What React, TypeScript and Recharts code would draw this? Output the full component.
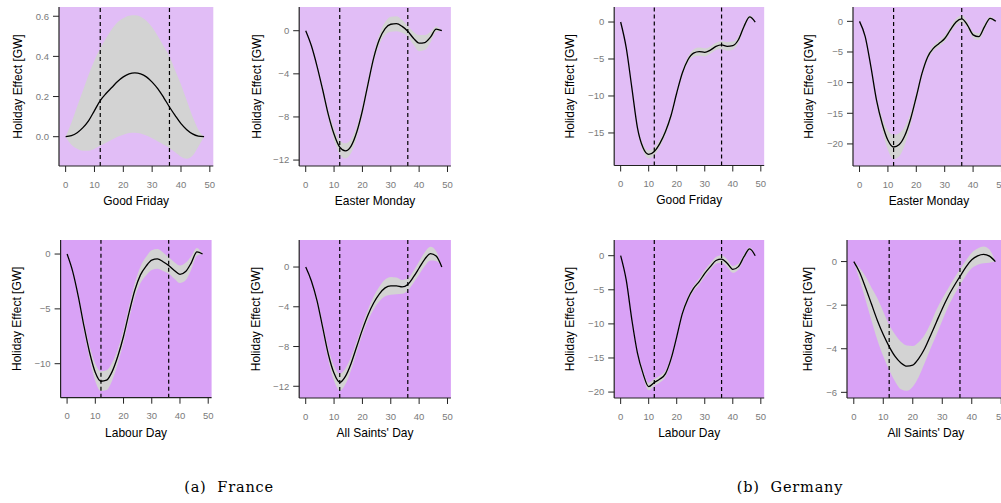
import {
  Area,
  CartesianGrid,
  ComposedChart,
  Line,
  ReferenceLine,
  XAxis,
  YAxis,
} from "recharts";

// hours after the holiday start (every 2 h)
const hours = [0, 2, 4, 6, 8, 10, 12, 14, 16, 18, 20, 22, 24, 26, 28, 30, 32, 34, 36, 38, 40, 42, 44, 46, 48];
const xTicks = [0, 10, 20, 30, 40, 50];

// France
const frGoodFridayMean = [0, 0.005, 0.02, 0.045, 0.08, 0.13, 0.18, 0.215, 0.245, 0.275, 0.298, 0.313, 0.318, 0.313, 0.298, 0.272, 0.238, 0.195, 0.148, 0.105, 0.065, 0.035, 0.014, 0.003, 0];
const frGoodFridayLow = [0, -0.04, -0.06, -0.07, -0.07, -0.06, -0.045, -0.03, -0.015, 0, 0.01, 0.018, 0.02, 0.016, 0.006, -0.008, -0.024, -0.04, -0.056, -0.078, -0.1, -0.11, -0.095, -0.05, 0];
const frGoodFridayHigh = [0, 0.07, 0.15, 0.23, 0.31, 0.38, 0.44, 0.49, 0.535, 0.57, 0.59, 0.603, 0.605, 0.598, 0.578, 0.545, 0.5, 0.45, 0.4, 0.33, 0.26, 0.18, 0.1, 0.035, 0];

const frEasterMean = [0, -1.4, -3.3, -5.5, -7.8, -9.6, -10.8, -11.15, -10.7, -9.4, -7.4, -4.9, -2.5, -0.8, 0.2, 0.6, 0.65, 0.4, -0.05, -0.7, -1.15, -1.1, -0.6, 0.15, 0];
const frEasterLow = [0, -1.5, -3.5, -5.8, -8.2, -10.15, -11.45, -11.85, -11.35, -9.95, -7.85, -5.3, -2.9, -1.3, -0.4, -0.1, -0.05, -0.2, -0.55, -1.3, -1.9, -1.8, -1.1, -0.1, 0];
const frEasterHigh = [0, -1.3, -3.1, -5.2, -7.4, -9.05, -10.15, -10.45, -10.05, -8.85, -6.95, -4.5, -2.1, -0.3, 0.8, 1.3, 1.35, 1.0, 0.45, -0.1, -0.4, -0.4, -0.1, 0.4, 0];

const frLabourMean = [0, -1.6, -3.9, -6.6, -9.0, -10.8, -11.6, -11.5, -10.7, -9.3, -7.5, -5.3, -3.3, -1.9, -1.1, -0.55, -0.45, -0.7, -1.05, -1.5, -1.85, -1.6, -0.8, 0.2, 0];
const frLabourLow = [0, -1.75, -4.2, -7.05, -9.6, -11.6, -12.5, -12.4, -11.5, -9.95, -8.1, -5.9, -3.95, -2.65, -1.95, -1.45, -1.35, -1.55, -1.8, -2.25, -2.65, -2.4, -1.4, -0.15, 0];
const frLabourHigh = [0, -1.45, -3.6, -6.15, -8.4, -10.0, -10.7, -10.6, -9.9, -8.65, -6.9, -4.7, -2.65, -1.15, -0.25, 0.35, 0.45, 0.15, -0.3, -0.75, -1.05, -0.8, -0.2, 0.55, 0];

const frSaintsMean = [0, -1.4, -3.4, -6.1, -8.8, -10.7, -11.6, -11.0, -9.7, -8.0, -6.3, -4.8, -3.6, -2.7, -2.1, -1.9, -1.9, -2.0, -1.75, -1.0, -0.1, 0.8, 1.35, 1.1, 0];
const frSaintsLow = [0, -1.55, -3.7, -6.55, -9.4, -11.45, -12.45, -11.8, -10.35, -8.55, -6.8, -5.35, -4.25, -3.45, -2.95, -2.8, -2.75, -2.7, -2.35, -1.6, -0.75, 0.1, 0.65, 0.6, 0];
const frSaintsHigh = [0, -1.25, -3.1, -5.65, -8.2, -9.95, -10.75, -10.2, -9.05, -7.45, -5.8, -4.25, -2.95, -1.95, -1.25, -1.0, -1.05, -1.3, -1.15, -0.4, 0.55, 1.5, 2.05, 1.6, 0];

// Germany
const deGoodFridayMean = [0, -3.5, -8.9, -14.3, -17.0, -17.9, -17.5, -16.4, -14.8, -12.6, -9.6, -6.9, -5.1, -4.2, -4.0, -4.1, -3.8, -3.3, -3.1, -3.3, -3.2, -2.4, -0.6, 0.7, 0];
const deGoodFridayLow = [0, -3.6, -9.1, -14.6, -17.45, -18.45, -18.05, -16.9, -15.25, -13.0, -9.95, -7.25, -5.5, -4.7, -4.55, -4.65, -4.3, -3.8, -3.65, -3.9, -3.75, -2.85, -0.9, 0.5, 0];
const deGoodFridayHigh = [0, -3.4, -8.7, -14.0, -16.55, -17.35, -16.95, -15.9, -14.35, -12.2, -9.25, -6.55, -4.7, -3.7, -3.45, -3.55, -3.3, -2.8, -2.55, -2.7, -2.65, -1.95, -0.3, 0.9, 0];

const deEasterMean = [0, -2.5, -7.4, -12.9, -16.7, -19.4, -20.5, -20.1, -18.6, -15.9, -12.3, -8.5, -5.8, -4.4, -3.6, -2.8, -1.4, -0.1, 0.4, -0.6, -2.2, -2.5, -0.9, 0.5, 0];
const deEasterLow = [0, -2.7, -7.8, -13.5, -17.7, -21.0, -22.5, -22.0, -20.1, -16.9, -13.0, -9.0, -6.25, -4.85, -4.1, -3.3, -1.9, -0.65, -0.2, -1.15, -2.7, -3.05, -1.4, 0.2, 0];
const deEasterHigh = [0, -2.3, -7.0, -12.3, -15.7, -17.8, -18.5, -18.2, -17.1, -14.9, -11.6, -8.0, -5.35, -3.95, -3.1, -2.3, -0.9, 0.45, 1.0, -0.05, -1.7, -1.95, -0.4, 0.8, 0];

const deLabourMean = [0, -3.6, -9.4, -14.3, -17.3, -19.2, -18.6, -18.1, -17.3, -15.1, -11.9, -8.5, -6.3, -4.8, -3.8, -2.6, -1.6, -0.7, -0.5, -1.1, -2.0, -1.6, -0.15, 1.0, 0];
const deLabourLow = [0, -3.7, -9.6, -14.65, -17.8, -19.75, -19.1, -18.6, -17.75, -15.5, -12.25, -8.85, -6.65, -5.2, -4.25, -3.1, -2.1, -1.2, -1.05, -1.65, -2.5, -2.05, -0.5, 0.75, 0];
const deLabourHigh = [0, -3.5, -9.2, -13.95, -16.8, -18.65, -18.1, -17.6, -16.85, -14.7, -11.55, -8.15, -5.95, -4.4, -3.35, -2.1, -1.1, -0.2, 0.05, -0.55, -1.5, -1.15, 0.2, 1.25, 0];

const deSaintsMean = [0, -0.5, -1.2, -1.95, -2.7, -3.35, -3.9, -4.35, -4.65, -4.8, -4.75, -4.45, -4.0, -3.4, -2.78, -2.16, -1.6, -1.12, -0.68, -0.25, 0.08, 0.26, 0.33, 0.25, 0];
const deSaintsLow = [0, -0.85, -1.76, -2.7, -3.6, -4.35, -4.98, -5.5, -5.86, -5.93, -5.74, -5.3, -4.67, -4.0, -3.37, -2.7, -2.07, -1.55, -1.07, -0.65, -0.31, -0.15, -0.08, -0.05, 0];
const deSaintsHigh = [0, -0.3, -0.69, -1.2, -1.68, -2.3, -2.9, -3.35, -3.68, -3.85, -3.87, -3.7, -3.37, -2.85, -2.22, -1.7, -1.23, -0.78, -0.35, 0.05, 0.41, 0.6, 0.69, 0.55, 0];

const TOP_BG = "#e1bdf6";
const BOTTOM_BG = "#d9a2f6";
const SANS = "'Liberation Sans', Arial, Helvetica, sans-serif";
const SERIF = "'DejaVu Serif', serif";

const fmtInt = (v: number) => (v < 0 ? "\u2212" + Math.abs(v) : String(v));
const fmtDec = (v: number) => v.toFixed(1);

interface PanelProps {
  title: string;
  mean: number[];
  low: number[];
  high: number[];
  plot: [number, number, number, number]; // left, top, right, bottom
  labelX: number;
  yDomain: [number, number];
  yTicks: number[];
  bg: string;
  decimals?: boolean;
}

function Panel({ title, mean, low, high, plot, labelX, yDomain, yTicks, bg, decimals }: PanelProps) {
  const [l, t, r, b] = plot;
  const chartLeft = 2 * labelX - l;
  const yW = l - chartLeft;
  const xH = 48;
  const rightPad = 14;
  const data = hours.map((h, i) => ({ h, mean: mean[i], band: [low[i], high[i]] }));

  return (
    <div style={{ position: "absolute", left: chartLeft, top: t }}>
      <ComposedChart
        width={yW + (r - l) + rightPad}
        height={b - t + xH}
        data={data}
        margin={{ top: 0, right: rightPad, bottom: 0, left: 0 }}
      >
        <CartesianGrid horizontal={false} vertical={false} fill={bg} stroke="none" />
        <XAxis
          type="number"
          dataKey="h"
          domain={[-2.3, 51.2]}
          ticks={xTicks}
          interval={0}
          height={xH}
          tickSize={6}
          tickMargin={9}
          axisLine={{ stroke: "#222", strokeWidth: 1.2 }}
          tickLine={{ stroke: "#222" }}
          tick={{ fontSize: 9.5, fill: "#7a7a7a", fontFamily: SANS }}
          allowDataOverflow
          label={{
            value: title,
            position: "insideBottom",
            offset: 9,
            fill: "#000",
            fontSize: 12,
            fontFamily: SANS,
          }}
        />
        <YAxis
          type="number"
          domain={yDomain}
          ticks={yTicks}
          interval={0}
          width={yW}
          tickSize={6}
          tickMargin={4}
          axisLine={{ stroke: "#222", strokeWidth: 1.2 }}
          tickLine={{ stroke: "#222" }}
          tick={{ fontSize: 9.5, fill: "#7a7a7a", fontFamily: SANS }}
          tickFormatter={decimals ? fmtDec : fmtInt}
          allowDataOverflow
          label={{
            value: "Holiday Effect [GW]",
            angle: -90,
            position: "center",
            fill: "#000",
            fontSize: 12,
            fontFamily: SANS,
          }}
        />
        <Area
          type="monotone"
          dataKey="band"
          fill="#d3d3d3"
          fillOpacity={1}
          stroke="none"
          isAnimationActive={false}
        />
        <ReferenceLine x={12} stroke="#000" strokeWidth={1.2} strokeDasharray="4 3" />
        <ReferenceLine x={36} stroke="#000" strokeWidth={1.2} strokeDasharray="4 3" />
        <Line
          type="monotone"
          dataKey="mean"
          stroke="#000"
          strokeWidth={1.3}
          dot={false}
          isAnimationActive={false}
        />
      </ComposedChart>
    </div>
  );
}

const captionStyle = {
  position: "absolute" as const,
  width: 240,
  top: 479,
  textAlign: "center" as const,
  fontFamily: SERIF,
  fontSize: 14.5,
  letterSpacing: 0.8,
  whiteSpace: "pre" as const,
};

export default function App() {
  return (
    <div
      style={{
        position: "fixed",
        left: 0,
        top: 0,
        width: 1001,
        height: 503,
        overflow: "hidden",
        background: "#fff",
        fontFamily: SANS,
      }}
    >
      <Panel title="Good Friday" mean={frGoodFridayMean} low={frGoodFridayLow} high={frGoodFridayHigh}
        plot={[58.7, 7, 213, 166]} labelX={17.2} yDomain={[-0.146, 0.646]} yTicks={[0, 0.2, 0.4, 0.6]} bg={TOP_BG} decimals />
      <Panel title="Easter Monday" mean={frEasterMean} low={frEasterLow} high={frEasterHigh}
        plot={[299.3, 7, 451, 166]} labelX={256.7} yDomain={[-12.55, 2.2]} yTicks={[-12, -8, -4, 0]} bg={TOP_BG} />
      <Panel title="Labour Day" mean={frLabourMean} low={frLabourLow} high={frLabourHigh}
        plot={[61, 240, 212, 397.7]} labelX={17.2} yDomain={[-13.1, 1.28]} yTicks={[-10, -5, 0]} bg={BOTTOM_BG} />
      <Panel title="All Saints' Day" mean={frSaintsMean} low={frSaintsLow} high={frSaintsHigh}
        plot={[299.3, 240, 451, 398]} labelX={256.2} yDomain={[-13.18, 2.72]} yTicks={[-12, -8, -4, 0]} bg={BOTTOM_BG} />

      <Panel title="Good Friday" mean={deGoodFridayMean} low={deGoodFridayLow} high={deGoodFridayHigh}
        plot={[614.3, 7, 764.3, 165.5]} labelX={569.7} yDomain={[-19.4, 2.03]} yTicks={[-15, -10, -5, 0]} bg={TOP_BG} />
      <Panel title="Easter Monday" mean={deEasterMean} low={deEasterLow} high={deEasterHigh}
        plot={[852.7, 7, 1004.6, 166]} labelX={808.7} yDomain={[-23.6, 2.34]} yTicks={[-20, -15, -10, -5, 0]} bg={TOP_BG} />
      <Panel title="Labour Day" mean={deLabourMean} low={deLabourLow} high={deLabourHigh}
        plot={[614.3, 240, 764.3, 398]} labelX={569.7} yDomain={[-20.87, 2.3]} yTicks={[-20, -15, -10, -5, 0]} bg={BOTTOM_BG} />
      <Panel title="All Saints' Day" mean={deSaintsMean} low={deSaintsLow} high={deSaintsHigh}
        plot={[846.7, 240, 1004.5, 398]} labelX={807.7} yDomain={[-6.26, 0.99]} yTicks={[-6, -4, -2, 0]} bg={BOTTOM_BG} />

      <div style={{ ...captionStyle, left: 229 - 120 }}>{"(a)  France"}</div>
      <div style={{ ...captionStyle, left: 790 - 120 }}>{"(b)  Germany"}</div>
    </div>
  );
}
